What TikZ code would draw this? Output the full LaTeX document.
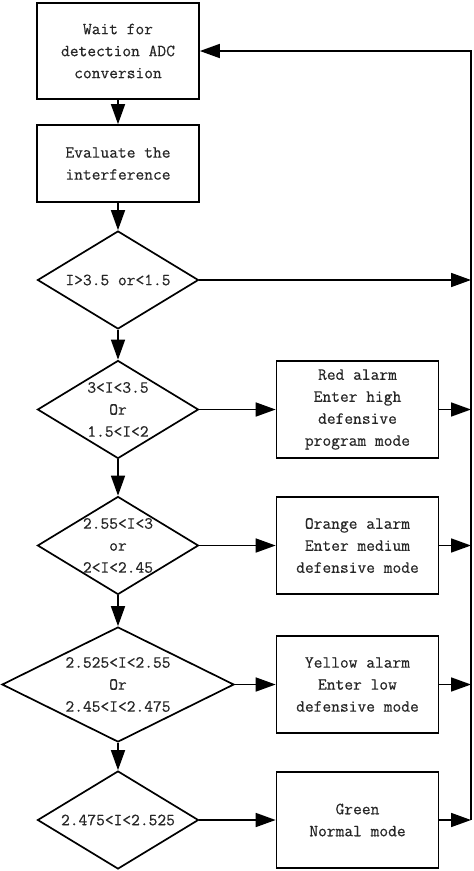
\documentclass[tikz,border=0pt]{standalone}
\usepackage{fontspec}
\setmonofont{Latin Modern Mono}[FakeBold=0.5]
\usetikzlibrary{shapes.geometric,arrows.meta}
\tikzset{
	stepbox/.style={draw,minimum width=162pt,inner sep=0pt,align=center},
	decision/.style={diamond,draw,inner sep=0pt,minimum width=161pt,minimum height=98pt},
	cond/.style={align=center,inner sep=0pt},
}
\begin{document}
\begin{tikzpicture}[x=1pt,y=-1pt,line width=1.7pt,text=black!85,font=\ttfamily\fontsize{17}{22}\selectfont,>={Triangle[length=20pt,width=14pt]}]
		\useasboundingbox (0,0) rectangle (474,871);
		\node[stepbox,minimum height=96pt] (wait) at (118,51) {Wait for\\detection ADC\\conversion};
		\node[stepbox,minimum height=77pt] (eval) at (118,163.5) {Evaluate the\\interference};
		\node[decision,label={[cond]center:I>3.5 or<1.5}] (c0) at (118,280) {};
		\node[decision,label={[cond]center:3<I<3.5\\Or\\1.5<I<2}] (c1) at (118,409.5) {};
		\node[decision,label={[cond]center:2.55<I<3\\or\\2<I<2.45}] (c2) at (118,545.5) {};
		\node[decision,minimum width=232pt,minimum height=115pt,label={[cond]center:2.525<I<2.55\\Or\\2.45<I<2.475}] (c3) at (118,684.5) {};
		\node[decision,label={[cond]center:2.475<I<2.525}] (c4) at (118,820) {};
		\node[stepbox,minimum height=97pt] (red) at (357.5,409.5) {Red alarm\\Enter high\\defensive\\program mode};
		\node[stepbox,minimum height=97pt] (orange) at (357.5,545.5) {Orange alarm\\Enter medium\\defensive mode};
		\node[stepbox,minimum height=97pt] (yellow) at (357.5,684.5) {Yellow alarm\\Enter low\\defensive mode};
		\node[stepbox,minimum height=96pt] (green) at (357.5,820) {Green\\Normal mode};
		\coordinate (top) at (471,51);
		\foreach \n in {c0,red,orange,yellow,green}
			\coordinate (\n-r) at (\n.east -| top);
		\path[->]
		\foreach \from/\to in {wait/eval,eval/c0,c0/c1,c1/c2,c2/c3,c3/c4,c1/red,c2/orange,c3/yellow,c4/green,c0/c0-r,red/red-r,orange/orange-r,yellow/yellow-r,green/green-r} {
			(\from) edge (\to)
		};
		\draw[->] (green-r) -- (top) -- (wait);
	\end{tikzpicture}
\end{document}
